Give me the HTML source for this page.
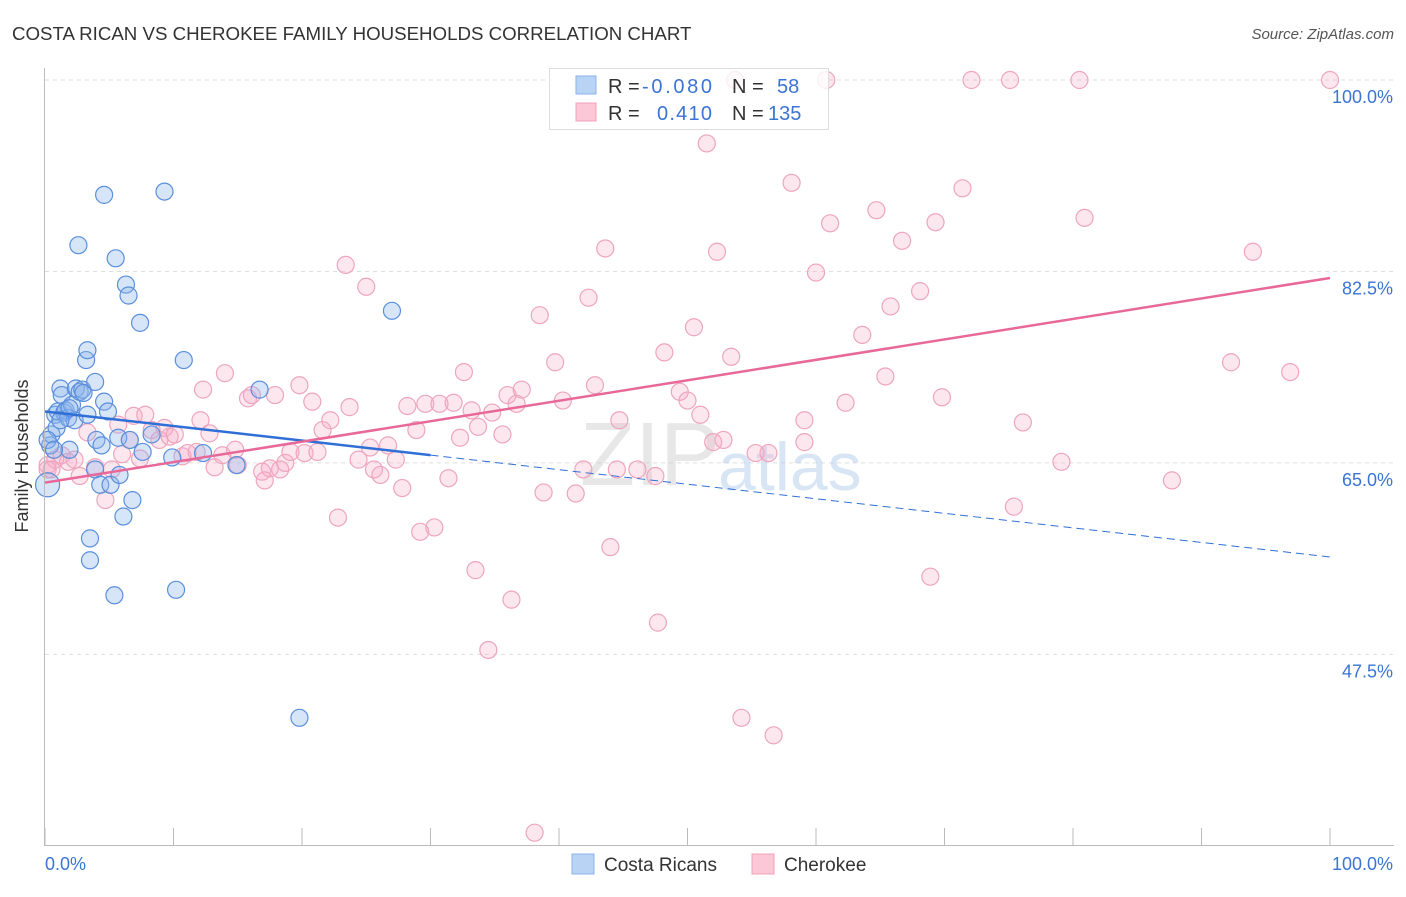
<!DOCTYPE html>
<html><head><meta charset="utf-8"><style>
body{margin:0;background:#fff;font-family:"Liberation Sans",sans-serif;}
svg text{font-family:"Liberation Sans",sans-serif;}
</style></head><body>
<svg id="chart" width="1406" height="892">
<text x="12" y="40" font-size="18.7" fill="#333">COSTA RICAN VS CHEROKEE FAMILY HOUSEHOLDS CORRELATION CHART</text>
<text x="1394" y="39" font-size="15" fill="#555" font-style="italic" text-anchor="end">Source: ZipAtlas.com</text>
<g id="grid"></g>
<text x="720" y="485" font-size="90" fill="#ccc" opacity="0.45" text-anchor="end" font-family="Liberation Serif">ZIP</text>
<text x="718" y="490" font-size="68" fill="#9fc0e8" opacity="0.4">atlas</text>
<g id="pinkpts"></g>
<g id="bluepts"></g>
<g id="trends"></g>
<g id="axes"></g>
<text x="28" y="456" font-size="18" fill="#333" text-anchor="middle" transform="rotate(-90 28 456)">Family Households</text>
<g>
<rect x="549.5" y="68.5" width="279" height="61" fill="#fff" fill-opacity="0.8" stroke="#ddd"/>
<rect x="576" y="76" width="20" height="18" fill="#b9d3f5" stroke="#8ab3e8"/>
<rect x="576" y="103" width="20" height="18" fill="#fcc7d6" stroke="#f0a0ba"/>
<text x="608" y="93" font-size="20" fill="#333">R =</text>
<text x="642" y="93" font-size="20" fill="#3b74d4" textLength="70">-0.080</text>
<text x="732" y="93" font-size="20" fill="#333">N =</text>
<text x="777" y="93" font-size="20" fill="#3b74d4">58</text>
<text x="608" y="120" font-size="20" fill="#333">R =</text>
<text x="657" y="120" font-size="20" fill="#3b74d4" textLength="55">0.410</text>
<text x="732" y="120" font-size="20" fill="#333">N =</text>
<text x="768" y="120" font-size="20" fill="#3b74d4">135</text>
</g>
<g>
<rect x="572" y="854" width="22" height="20" fill="#b9d3f5" stroke="#8ab3e8"/>
<text x="604" y="871" font-size="19" fill="#333">Costa Ricans</text>
<rect x="752" y="854" width="22" height="20" fill="#fcc7d6" stroke="#f0a0ba"/>
<text x="784" y="871" font-size="19" fill="#333">Cherokee</text>
</g>
</svg>
<script>
const yTicks=[100,82.5,65,47.5];
const yTickLabels=["100.0%","82.5%","65.0%","47.5%"];
const xTickLabels=["0.0%","100.0%"];
const blueX=[0.2,0.4,0.5,0.8,0.9,1.0,1.2,1.3,1.5,1.6,1.8,1.9,2.1,2.3,2.4,2.6,2.7,2.9,3.0,3.2,3.3,3.3,3.5,3.5,3.9,3.9,4.0,4.3,4.4,4.6,4.6,4.9,5.1,5.4,5.5,5.7,5.8,6.1,6.3,6.5,6.6,6.8,7.4,7.6,8.3,9.3,9.9,10.2,10.8,12.3,14.9,16.7,19.8,27.0,0.2,0.7,1.9,1.2];
const blueY=[63.0,66.6,67.6,69.4,68.2,69.7,71.8,71.2,69.6,69.8,69.1,66.2,70.3,68.9,71.8,84.9,71.5,71.7,71.4,74.4,75.3,69.4,58.1,56.1,72.4,64.4,67.1,63.0,66.6,89.5,70.6,69.7,63.0,52.9,83.7,67.3,63.9,60.1,81.3,80.3,67.1,61.6,77.8,66.0,67.6,89.8,65.5,53.4,74.4,65.9,64.8,71.7,41.7,78.9,67.1,66.2,70.0,68.9];
const pinkX=[0.2,0.5,0.8,1.3,1.8,2.3,2.7,3.3,3.9,4.7,5.2,5.7,6.0,6.6,6.9,7.4,7.8,8.3,8.9,9.3,9.7,10.1,10.7,11.1,11.8,12.1,12.3,12.8,13.2,13.8,14.0,14.8,15.0,15.8,16.1,16.9,17.1,17.5,17.9,18.3,18.7,19.1,19.8,20.2,20.8,21.2,21.6,22.2,22.8,23.4,23.7,24.4,25.0,25.3,25.6,26.1,26.7,27.3,27.8,28.2,28.9,29.2,29.6,30.3,30.7,31.4,31.8,32.3,32.6,33.2,33.5,33.7,34.5,34.8,35.6,36.0,36.3,36.7,37.1,38.1,38.5,38.8,39.7,40.3,41.3,41.9,42.3,42.8,43.6,44.0,44.5,44.7,46.1,47.5,47.7,48.2,49.4,50.0,50.5,51.0,51.5,52.0,52.3,52.8,53.4,53.7,54.2,55.3,56.3,56.7,58.1,59.1,59.1,60.0,60.8,61.1,62.3,63.6,64.7,65.4,65.8,66.7,68.1,68.9,69.3,69.8,71.4,72.1,75.1,75.4,76.1,79.1,80.5,80.9,87.7,92.3,94.0,96.9,100,0.2];
const pinkY=[64.8,64.4,65.3,65.7,65.1,65.3,63.8,67.8,64.6,61.6,64.4,68.5,65.8,67.1,69.3,65.4,69.4,68.0,67.1,68.2,67.4,67.6,65.6,65.9,66.0,68.9,71.7,67.7,64.6,65.7,73.2,66.2,64.8,70.9,71.2,64.2,63.4,64.5,71.2,64.4,65.0,66.0,72.1,65.9,70.6,66.0,68.0,68.9,60.0,83.1,70.1,65.3,81.1,66.4,64.4,63.9,66.6,65.3,62.7,70.2,68.0,58.7,70.4,59.1,70.4,63.6,70.5,67.3,73.3,69.8,55.2,68.3,47.9,69.6,67.6,71.2,52.5,70.4,71.7,31.2,78.5,62.3,74.2,70.7,62.2,64.4,80.1,72.1,84.6,57.3,64.4,68.9,64.4,63.8,50.4,75.1,71.5,70.7,77.4,69.4,94.2,66.9,84.3,67.1,74.7,100,41.7,65.9,65.9,40.1,90.6,66.9,68.9,82.4,100,86.9,70.5,76.7,88.1,72.9,79.3,85.3,80.7,54.6,87.0,71.0,90.1,100,100,61.0,68.7,65.1,100,87.4,63.4,74.2,84.3,73.3,100,64.4];
const blueTrend=[69.7,56.4];
const blueSolidEnd=30;
const pinkTrend=[63.2,81.9];

const NS="http://www.w3.org/2000/svg";
const X=v=>45+v*12.85;
const Y=v=>80+(100-v)*10.94;
function mk(tag,attrs,parent){const e=document.createElementNS(NS,tag);for(const k in attrs)e.setAttribute(k,attrs[k]);parent.appendChild(e);return e;}
const grid=document.getElementById('grid');
yTicks.forEach((t,i)=>{
 const l=mk('line',{x1:45,x2:1394,y1:Y(t),y2:Y(t),stroke:'#ddd','stroke-dasharray':'4,4'},grid);
 
 
 const tx=mk('text',{x:1393,y:Y(t)+23,'font-size':18,fill:'#3b74d4','text-anchor':'end'},grid);
 tx.textContent=yTickLabels[i];
 
 
});
const axes=document.getElementById('axes');
mk('line',{x1:44.5,x2:44.5,y1:68,y2:845,stroke:'#bbb'},axes);
mk('line',{x1:44,x2:1394,y1:845.5,y2:845.5,stroke:'#bbb'},axes);
for(let i=0;i<=10;i++){const l=mk('line',{x1:X(i*10),x2:X(i*10),y1:828,y2:845,stroke:'#bbb'},axes);
 
 }
const xl0=mk('text',{x:45,y:870,'font-size':18,fill:'#3b74d4'},axes);xl0.textContent=xTickLabels[0];


const xl1=mk('text',{x:1393,y:870,'font-size':18,fill:'#3b74d4','text-anchor':'end'},axes);xl1.textContent=xTickLabels[1];


const pg=document.getElementById('pinkpts');
pinkX.forEach((x,i)=>{const c=mk('circle',{cx:X(x),cy:Y(pinkY[i]),r:8.5,fill:'rgba(248,170,196,0.28)',stroke:'#eea5bd','stroke-width':1.2},pg);
 
 });
const bg=document.getElementById('bluepts');
blueX.forEach((x,i)=>{const c=mk('circle',{cx:X(x),cy:Y(blueY[i]),r:i==0?12:8.5,fill:'rgba(140,180,235,0.35)',stroke:'#5b8fdc','stroke-width':1.2},bg);
 
 });
const tr=document.getElementById('trends');
const by=x=>blueTrend[0]+(blueTrend[1]-blueTrend[0])*x/100;
const b1=mk('line',{x1:X(0),y1:Y(by(0)),x2:X(blueSolidEnd),y2:Y(by(blueSolidEnd)),stroke:'#2f6fd6','stroke-width':2.5},tr);


const b2=mk('line',{x1:X(blueSolidEnd),y1:Y(by(blueSolidEnd)),x2:X(100),y2:Y(by(100)),stroke:'#2f6fd6','stroke-width':1,'stroke-dasharray':'8,5'},tr);


const p1=mk('line',{x1:X(0),y1:Y(pinkTrend[0]),x2:X(100),y2:Y(pinkTrend[1]),stroke:'#e8689a','stroke-width':2.5},tr);


</script>
</body></html>
